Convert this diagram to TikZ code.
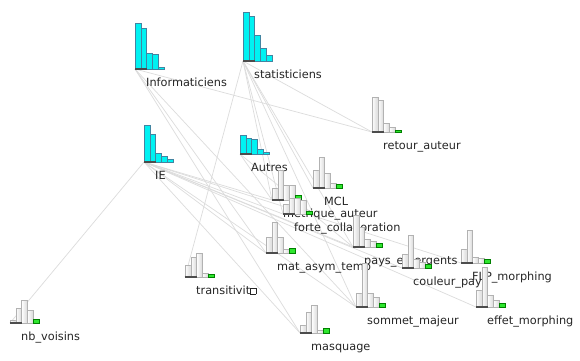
\documentclass[tikz,border=0pt]{standalone}
\usepackage{fontspec}
\setmainfont{DejaVu Sans}
\usetikzlibrary{calc}
\definecolor{linkgray}{HTML}{DCDCDC}
\definecolor{barcyan}{HTML}{00F2F2}
\definecolor{bargreen}{HTML}{2EE62E}
\newcommand\nochar{{\setlength\fboxsep{0pt}\setlength\fboxrule{0.7pt}\fbox{\rule{0pt}{5.5pt}\hspace{4.8pt}}}}
\newcommand\glyph[4]{%
  \foreach \h [count=\i from 0] in #4 {%
    \ifnum\i<4 \path[#2] ($(#1)+(\i*5.8,0)$) rectangle ++(5.8,-\h);
    \else \path[#3] ($(#1)+(\i*5.8,0)$) rectangle ++(5.8,-\h); \fi
  }%
  \draw[basebar] (#1) -- ++(12,0);
}
\tikzset{
  link/.style={draw=linkgray, line width=0.7pt},
  lbl/.style={anchor=base west, inner sep=0pt, text=black!85, font=\fontsize{11.3}{13}\selectfont},
  catbar/.style={fill=barcyan, draw=cyan!60!black, line width=0.4pt},
  topicbar/.style={left color=white, right color=gray!30, draw=gray!60, line width=0.4pt},
  scorebar/.style={fill=bargreen, draw=green!50!black, line width=0.4pt},
  basebar/.style={draw=gray!60!black, line width=1.2pt},
}
\begin{document}
\begin{tikzpicture}[x=1pt,y=-1pt]
  \useasboundingbox (0,0) rectangle (580,360);
  \fill[white] (0,0) rectangle (580,360);
  \foreach \n/\x/\y in {inf/135/69, sta/243/61, ie/144/162, aut/240/154, ret/372/132,
      mcl/313/188, met/272/200, for/283/214, mat/266/253, pay/353/247, cou/402/268,
      flp/461/263, som/356/307, eff/476/307, tra/185/277, mas/300/333, nbv/10/323}
    \coordinate (\n) at (\x,\y);
  \foreach \a/\b in {inf/ret, inf/mat, inf/mas, inf/som, sta/ret, sta/tra, sta/met, sta/mcl,
      sta/for, sta/pay, sta/som, ie/nbv, ie/met, ie/for, ie/pay, ie/cou, ie/flp, ie/eff,
      ie/mat, ie/mas, ie/som, aut/met, aut/pay}
    \draw[link] (\a) -- (\b);
  \foreach \n/\t in {inf/Informaticiens, sta/statisticiens, ie/IE, aut/Autres,
      ret/retour\_auteur, mcl/MCL, met/metrique\_auteur, for/forte\_collaboration,
      mat/mat\_asym\_temp, pay/pays\_emergents, cou/couleur\_pays, flp/FLP\_morphing,
      som/sommet\_majeur, eff/effet\_morphing, tra/transitivit\nochar, mas/masquage,
      nbv/nb\_voisins}
    \node[lbl] (\n-l) at ($(\n)+(11,17)$) {\t};
  \foreach \n/\hs in {inf/{46,41,16,15,2}, sta/{49,45,26,13,6}, ie/{37,28,9,6,3},
      aut/{19,16,15,5,2}}
    \glyph{\n}{catbar}{catbar}{\hs};
  \foreach \n/\hs in {ret/{35,32,9,5,2}, mcl/{18,31,15,5,4}, met/{12,30,15,15,5},
      for/{10,16,16,14,3}, mat/{16,31,16,4,5}, pay/{32,20,8,6,4}, cou/{14,33,9,6,4},
      flp/{14,33,6,5,4}, som/{14,44,14,10,4}, eff/{17,40,12,7,4}, tra/{12,20,24,4,3},
      mas/{8,21,28,3,5}, nbv/{3,15,23,13,4}}
    \glyph{\n}{topicbar}{scorebar}{\hs};
\end{tikzpicture}
\end{document}
